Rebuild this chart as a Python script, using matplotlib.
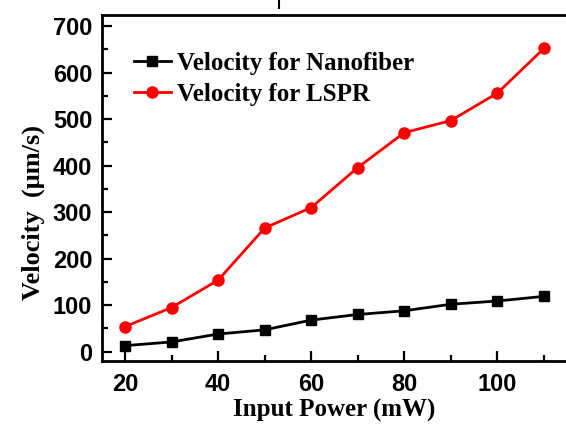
import matplotlib
matplotlib.use("Agg")
import matplotlib.pyplot as plt
from matplotlib.ticker import MultipleLocator
from matplotlib.lines import Line2D

power = [20, 30, 40, 50, 60, 70, 80, 90, 100, 110]
vel_nanofiber = [13, 21, 38, 47, 68, 80, 88, 102, 109, 119]
vel_lspr = [54, 95, 154, 266, 310, 396, 471, 497, 556, 652]

fig = plt.figure(figsize=(5.66, 4.25), dpi=100)
ax = fig.add_axes([0.180, 0.1506, 0.822, 0.8141])

ax.plot(power, vel_nanofiber, color='black', lw=2, marker='s', ms=7,
        label="Velocity for Nanofiber")
ax.plot(power, vel_lspr, color='#ff0000', lw=2, marker='o', ms=8,
        label="Velocity for LSPR")

ax.set_xlim(15, 115)
ax.set_ylim(-20, 724)
ax.xaxis.set_major_locator(MultipleLocator(20))
ax.xaxis.set_minor_locator(MultipleLocator(10))
ax.yaxis.set_major_locator(MultipleLocator(100))
ax.yaxis.set_minor_locator(MultipleLocator(50))
ax.tick_params(which='both', direction='in', top=False, right=False, width=1.6)
ax.tick_params(which='major', length=7)
ax.tick_params(which='minor', length=4)
ax.tick_params(axis='x', which='major', pad=9)
ax.tick_params(axis='y', which='major', pad=7)
for lab in ax.get_xticklabels() + ax.get_yticklabels():
    lab.set_family('Liberation Sans')
    lab.set_fontweight('bold')
    lab.set_fontsize(17)
for sp in ax.spines.values():
    sp.set_linewidth(2)

ax.set_xlabel("Input Power (mW)", family='Liberation Serif', fontweight='bold',
              fontsize=18)
ax.xaxis.set_label_coords(0.5, -0.11)
ax.set_ylabel("Velocity  (\u03bcm/s)", family='Liberation Serif', fontweight='bold',
              fontsize=19)
ax.yaxis.set_label_coords(-0.122, 0.43)

ax.legend(loc='upper left', bbox_to_anchor=(0.068, 0.893), frameon=False,
          prop={'family': 'Liberation Serif', 'weight': 'bold', 'size': 18},
          handlelength=1.5, handletextpad=0.25, labelspacing=0.3,
          borderpad=0, borderaxespad=0)

# bit of the cropped title above the plot
fig.add_artist(Line2D([279 / 566, 279 / 566], [1.0, 0.982], color='black', lw=1.5))

fig.savefig("out.png", dpi=100)
